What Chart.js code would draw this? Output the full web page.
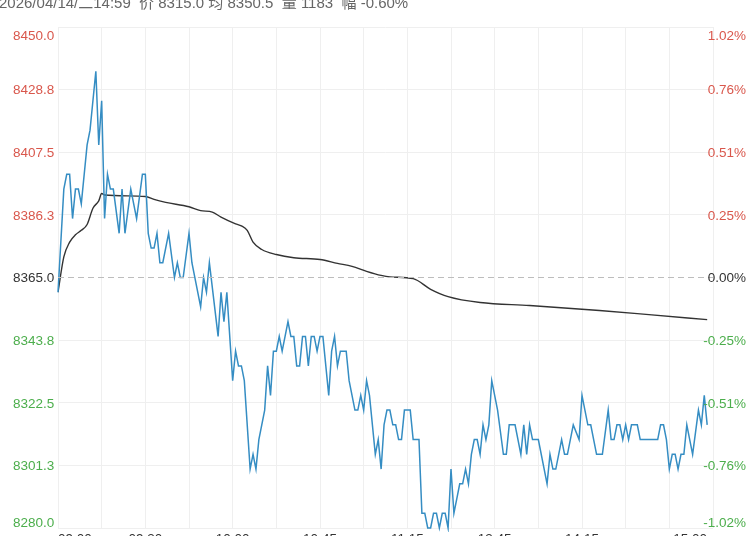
<!DOCTYPE html>
<html><head><meta charset="utf-8">
<script src="https://cdn.jsdelivr.net/npm/chart.js@4.4.1/dist/chart.umd.min.js"></script>
<style>
html,body{margin:0;padding:0;background:#fff;overflow:hidden;}
#wrap{position:relative;width:750px;height:536px;overflow:hidden;}
#hdr{position:absolute;left:-1px;top:-5px;font:15px/15px "Liberation Sans","Noto Sans CJK SC",sans-serif;color:#666;white-space:pre;}
canvas{position:absolute;left:0;top:0;}
</style></head><body>
<div id="wrap"><canvas id="c" width="750" height="536"></canvas>
<div id="hdr">2026/04/14/二14:59  价 8315.0 均 8350.5  量 1183  幅 -0.60%</div></div>
<script>
// ---- data ----
const BASE_PRICE = 8365;
const TOTAL_MINUTES = 225;
const gridMinutes = [0,15,30,45,60,75,90,105,120,135,150,165,180,195,210,225];
const xTickMinutes = [0,30,60,90,120,150,180,225];
const xTickLabels = ['09:00','09:30','10:00','10:45','11:15','13:45','14:15','15:00'];
const yTickValues = [8450,8428.75,8407.5,8386.25,8365,8343.75,8322.5,8301.25,8280];
const leftTickLabels = ['8450.0','8428.8','8407.5','8386.3','8365.0','8343.8','8322.5','8301.3','8280.0'];
const rightTickLabels = ['1.02%','0.76%','0.51%','0.25%','0.00%','-0.25%','-0.51%','-0.76%','-1.02%'];

const priceMinutes = [0,2,3,4,5,6,7,8,10,11,13,14,15,16,17,18,19,21,22,23,25,27,29,30,31,32,33,34,35,36,38,40,41,42,43,45,46,49,50,51,52,55,56,57,58,60,61,62,63,64,66,67,68,69,71,72,73,74,75,76,77,79,80,81,82,83,84,85,86,87,88,89,90,91,93,94,95,96,97,99,100,102,103,104,105,106,107,109,110,111,112,113,114,115,116,117,118,119,121,122,124,125,126,127,128,129,130,131,132,133,134,135,136,137,138,139,140,141,142,143,144,145,146,147,148,149,151,153,154,155,157,159,160,161,162,163,165,168,169,170,171,173,174,175,177,179,180,182,183,185,187,189,190,191,192,193,194,195,196,197,199,200,206,207,208,209,210,211,212,213,214,215,216,218,220,221,222,223];
const priceValues = [8360,8395,8400,8400,8385,8395,8395,8390,8410,8415,8435,8410,8425,8385,8400,8395,8395,8380,8395,8380,8395,8385,8400,8400,8380,8375,8375,8380,8370,8370,8380,8365,8370,8365,8365,8380,8370,8355,8365,8360,8370,8345,8360,8350,8360,8330,8340,8335,8335,8330,8300,8305,8300,8310,8320,8335,8325,8340,8340,8345,8340,8350,8345,8345,8335,8335,8345,8345,8335,8345,8345,8340,8345,8345,8325,8340,8345,8335,8340,8340,8330,8320,8320,8325,8320,8330,8325,8305,8310,8300,8315,8320,8320,8315,8315,8310,8310,8320,8320,8310,8310,8285,8285,8280,8280,8285,8285,8280,8285,8285,8280,8300,8285,8290,8295,8295,8300,8295,8305,8310,8310,8305,8315,8310,8315,8330,8320,8305,8305,8315,8315,8305,8315,8305,8315,8310,8310,8295,8305,8300,8300,8310,8305,8305,8315,8310,8325,8315,8315,8305,8305,8320,8310,8310,8315,8315,8310,8315,8310,8315,8315,8310,8310,8315,8315,8310,8300,8305,8305,8300,8305,8305,8315,8305,8320,8315,8325,8315];

const avgMinutes = [0,2,4,6,8,10,12,14,15,16,30,33,37,45,49,53,56,61,63,65,67,70,75,81,90,96,101,106,111,114,122,128,134,145,162,186,203,223];
const avgValues = [8360,8372,8377,8379.5,8381,8383,8388.5,8391,8393.5,8393,8392.5,8391.5,8390.5,8389,8387.7,8387.2,8385.5,8383.2,8382.5,8381,8377,8374.5,8372.8,8371.7,8371.1,8369.8,8368.8,8367.1,8365.7,8365.2,8364.6,8361,8358.5,8356.5,8355.5,8353.8,8352.4,8350.7];

const pricePoints = priceMinutes.map((m,i)=>({x:m,y:priceValues[i]}));
const avgPoints = avgMinutes.map((m,i)=>({x:m,y:avgValues[i]}));
const basePoints = [{x:0,y:BASE_PRICE},{x:TOTAL_MINUTES,y:BASE_PRICE}];

const RED='#d9574c', GREEN='#4cae4c', NEUTRAL='#333333';
const FONT='"Liberation Sans", Arial, sans-serif';

const labelPlugin = {
  id:'labels',
  afterDraw(chart){
    const ctx = chart.ctx, ys = chart.scales.y, xs = chart.scales.x;
    ctx.save();
    ctx.font = '13.5px ' + FONT;
    yTickValues.forEach((v,i)=>{
      const p = ys.getPixelForValue(v);
      let y = p + 4.8;
      if (i===0) y = p + 13;
      if (i===yTickValues.length-1) y = p - 1;
      ctx.textBaseline = 'alphabetic';
      ctx.fillStyle = v > BASE_PRICE ? RED : (v < BASE_PRICE ? GREEN : NEUTRAL);
      ctx.textAlign = 'left';
      ctx.fillText(leftTickLabels[i], 13, y);
      ctx.textAlign = 'right';
      ctx.fillText(rightTickLabels[i], 746, y);
    });
    ctx.fillStyle = '#333';
    xTickMinutes.forEach((m,i)=>{
      const p = xs.getPixelForValue(m);
      if (i===0){ctx.textAlign='left'; ctx.fillText(xTickLabels[i], p, 542.5);}
      else if (i===xTickMinutes.length-1){ctx.textAlign='right'; ctx.fillText(xTickLabels[i], p-6, 542.5);}
      else {ctx.textAlign='center'; ctx.fillText(xTickLabels[i], p, 542.5);}
    });
    ctx.restore();
  }
};

new Chart(document.getElementById('c'), {
  type:'line',
  data:{datasets:[
    {data:basePoints, borderColor:'#bdbdbd', borderWidth:1, borderDash:[6,4], pointRadius:0, tension:0},
    {data:pricePoints, borderColor:'#358dc3', borderWidth:1.5, pointRadius:0, tension:0, clip:4},
    {data:avgPoints, borderColor:'#333333', borderWidth:1.4, pointRadius:0, tension:0.3, cubicInterpolationMode:'monotone'}
  ]},
  options:{
    responsive:false, animation:false, devicePixelRatio:1,
    layout:{padding:{left:58,right:37,top:27,bottom:8}},
    plugins:{legend:{display:false}, tooltip:{enabled:false}},
    scales:{
      x:{type:'linear', min:0, max:TOTAL_MINUTES,
         afterBuildTicks:a=>{a.ticks=gridMinutes.map(v=>({value:v}));},
         ticks:{display:false}, grid:{color:'#efefef', drawTicks:false}, border:{display:false}},
      y:{type:'linear', min:8280, max:8450,
         afterBuildTicks:a=>{a.ticks=yTickValues.map(v=>({value:v}));},
         ticks:{display:false},
         grid:{color:c=> (c.tick && c.tick.value===BASE_PRICE) ? 'rgba(0,0,0,0)' : '#efefef', drawTicks:false},
         border:{display:false}}
    }
  },
  plugins:[labelPlugin]
});
</script>
</body></html>
